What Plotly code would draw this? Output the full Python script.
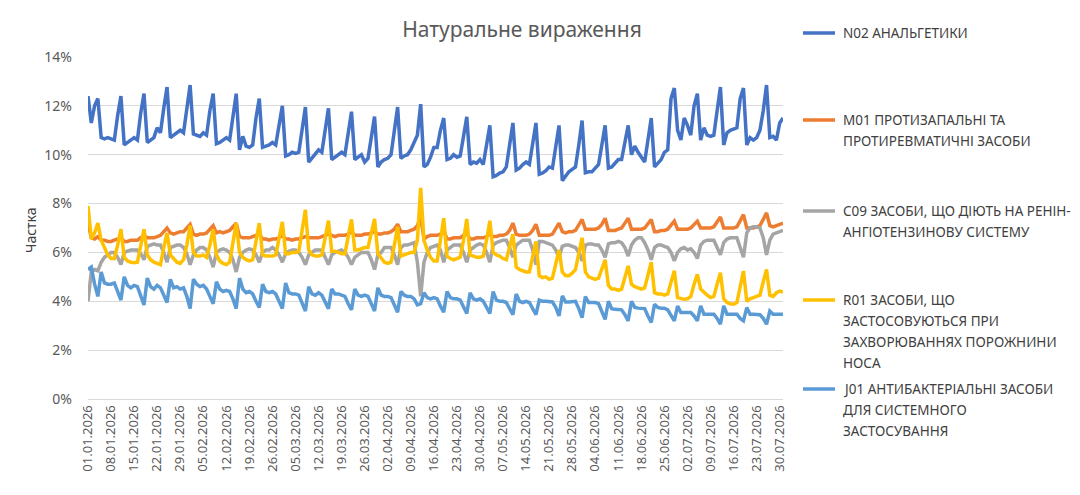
import plotly.graph_objects as go
import pandas as pd

dates = pd.date_range("2026-01-01", "2026-07-31", freq="D").strftime("%d.%m.%Y").tolist()
tick_labels = dates[::7]

n02 = [12.4, 11.3, 12.0, 12.3,
       10.7, 10.65, 10.7, 10.65, 10.6, 11.6, 12.4,
       10.4, 10.5, 10.6, 10.7, 10.6, 11.7, 12.5,
       10.5, 10.6, 10.7, 11.1, 10.9, 11.9, 12.77,
       10.7, 10.8, 10.9, 11.0, 10.9, 12.0, 12.85,
       10.85, 10.8, 10.75, 10.9, 10.8, 11.8, 12.5,
       10.45, 10.5, 10.6, 10.7, 10.6, 11.6, 12.5,
       10.2, 10.75, 10.35, 10.3, 10.4, 11.5, 12.3,
       10.3, 10.35, 10.4, 10.5, 10.4, 11.2, 12.0,
       9.95, 10.0, 10.1, 10.05, 10.1, 11.0, 11.95,
       9.7, 9.85, 10.0, 10.2, 10.1, 11.0, 11.9,
       9.8, 9.9, 10.0, 10.1, 10.0, 10.9, 11.76,
       9.8, 9.9, 10.0, 9.7, 9.85, 10.7, 11.56,
       9.5, 9.7, 9.8, 9.85, 10.0, 11.1, 11.95,
       9.85, 9.95, 10.0, 10.2, 10.5, 10.8, 12.07,
       9.5, 9.6, 9.9, 10.3, 10.3, 11.0, 11.5,
       9.8, 9.85, 10.0, 9.9, 9.95, 10.7, 11.55,
       9.6, 9.7, 9.65, 9.8, 9.6, 10.4, 11.2,
       9.1, 9.15, 9.25, 9.3, 9.5, 10.4, 11.3,
       9.37, 9.45, 9.6, 9.7, 9.6, 10.5, 11.3,
       9.2, 9.25, 9.35, 9.5, 9.45, 10.3, 11.2,
       8.94, 9.1, 9.3, 9.4, 9.5, 10.4, 11.4,
       9.26, 9.3, 9.3, 9.45, 9.6, 10.4, 11.2,
       9.45, 9.5, 9.65, 9.8, 9.8, 10.5, 11.2,
       10.0, 10.35, 10.1, 9.9, 9.7, 10.6, 11.5,
       9.5, 9.65, 9.8, 10.1, 10.2, 12.3, 12.73,
       11.0, 10.6, 11.5, 11.2, 10.8, 12.0, 12.5,
       10.6, 11.1, 10.8, 10.75, 10.8, 11.8, 12.77,
       10.4, 10.9, 11.0, 11.05, 11.1, 12.3, 12.73,
       10.4, 10.7, 10.6, 10.7, 11.0, 11.8, 12.85,
       10.7, 10.75, 10.6, 11.3, 11.5]

m01 = [7.2, 6.6, 6.55, 6.65,
       6.5, 6.5, 6.45, 6.45, 6.5, 6.55, 6.6,
       6.45, 6.45, 6.5, 6.5, 6.5, 6.6, 6.7,
       6.6, 6.6, 6.6, 6.65, 6.7, 6.85, 7.0,
       6.8, 6.75, 6.8, 6.85, 6.85, 7.0, 7.15,
       6.75, 6.7, 6.75, 6.75, 6.8, 6.95, 7.1,
       6.8, 6.85, 6.8, 6.85, 6.9, 7.05, 7.2,
       6.65, 6.6, 6.6, 6.6, 6.65, 6.7, 6.75,
       6.55, 6.55, 6.5, 6.55, 6.55, 6.6, 6.7,
       6.55, 6.55, 6.5, 6.55, 6.55, 6.6, 6.65,
       6.6, 6.6, 6.6, 6.6, 6.65, 6.7, 6.75,
       6.7, 6.65, 6.7, 6.7, 6.7, 6.75, 6.85,
       6.7, 6.7, 6.7, 6.75, 6.75, 6.8, 6.85,
       6.75, 6.75, 6.8, 6.8, 6.85, 6.95, 7.15,
       6.85, 6.85, 6.85, 6.9, 6.95, 7.1, 7.45,
       6.55, 6.65, 6.7, 6.7, 6.7, 6.75, 6.9,
       6.55, 6.55, 6.6, 6.6, 6.6, 6.7, 6.8,
       6.55, 6.55, 6.6, 6.6, 6.6, 6.65, 6.75,
       6.65, 6.65, 6.7, 6.7, 6.75, 6.9, 7.2,
       6.75, 6.7, 6.7, 6.7, 6.75, 6.9, 7.15,
       6.7, 6.7, 6.7, 6.7, 6.75, 6.95, 7.2,
       6.85, 6.8, 6.85, 6.85, 6.9, 7.1, 7.35,
       6.95, 6.95, 6.95, 6.95, 7.0, 7.15, 7.4,
       6.9, 6.9, 6.9, 6.95, 7.0, 7.2, 7.4,
       6.95, 6.95, 6.95, 6.95, 7.0, 7.15, 7.35,
       6.85, 6.85, 6.9, 6.9, 6.95, 7.1, 7.28,
       6.95, 6.95, 6.95, 6.95, 7.0, 7.15, 7.28,
       7.0, 7.0, 7.0, 7.0, 7.05, 7.25, 7.45,
       7.0, 7.0, 7.0, 7.0, 7.05, 7.3, 7.55,
       7.0, 7.0, 7.0, 7.05, 7.1, 7.35, 7.62,
       7.1, 7.05, 7.1, 7.15, 7.2]

c09 = [4.0, 5.2, 5.3, 5.25,
       5.6, 5.8, 5.9, 6.0, 6.0, 5.8, 5.5,
       6.0, 6.05, 6.1, 6.1, 6.1, 5.95, 5.7,
       6.25, 6.3, 6.35, 6.3, 6.3, 6.0, 5.6,
       6.2, 6.25, 6.3, 6.3, 6.2, 5.95, 5.5,
       5.9, 6.1, 6.2, 6.2, 6.1, 5.8, 5.4,
       6.0, 6.1, 6.15, 6.1, 6.0, 5.7, 5.2,
       5.8, 6.0, 6.1, 6.15, 6.1, 5.9, 5.6,
       6.0, 6.1, 6.1, 6.2, 6.1, 5.9, 5.6,
       5.95, 6.05, 6.1, 6.1, 6.0, 5.8, 5.5,
       5.9, 6.0, 6.1, 6.1, 6.1, 5.8, 5.5,
       5.9, 6.0, 6.05, 6.1, 6.0, 5.8, 5.5,
       5.8, 5.9, 6.0, 6.0, 6.0, 5.7, 5.3,
       5.9, 6.0, 6.2, 6.2, 6.2, 5.9, 5.5,
       6.2, 6.3, 6.3, 6.35, 6.4, 5.6, 4.2,
       5.6, 6.0, 6.2, 6.25, 6.3, 6.1, 5.6,
       6.1, 6.2, 6.3, 6.3, 6.3, 6.0, 5.6,
       6.1, 6.2, 6.3, 6.35, 6.3, 6.0, 5.6,
       6.3, 6.4, 6.45, 6.5, 6.5, 6.2, 5.8,
       6.3, 6.4, 6.5, 6.5, 6.5, 6.1, 5.5,
       6.45, 6.45, 6.4, 6.35, 6.3, 6.1, 5.8,
       6.25, 6.3, 6.3, 6.25, 6.2, 6.0, 5.65,
       6.3, 6.35, 6.35, 6.3, 6.3, 6.1, 5.8,
       6.35, 6.4, 6.4, 6.45, 6.4, 6.2, 5.85,
       6.3, 6.5, 6.6, 6.6, 6.4, 6.1, 5.7,
       6.2, 6.3, 6.3, 6.25, 6.2, 6.0, 5.65,
       6.0, 6.15, 6.2, 6.1, 6.15, 6.0, 5.75,
       6.3, 6.45, 6.5, 6.5, 6.5, 6.2, 5.9,
       6.4, 6.55, 6.6, 6.6, 6.6, 6.2, 5.8,
       6.8, 7.0, 7.05, 7.05, 7.0, 6.6, 5.9,
       6.5, 6.75, 6.8, 6.85, 6.9]

r01 = [7.9, 6.55, 6.8, 7.2,
       6.5, 6.2, 5.9, 5.75, 5.75, 6.3, 6.95,
       5.8, 5.65, 5.6, 5.58, 5.6, 6.2, 6.95,
       5.9, 5.7, 5.6, 5.55, 5.5, 6.2, 6.8,
       5.9, 5.75, 5.6, 5.55, 5.7, 6.3, 7.1,
       6.0, 5.85, 5.85, 5.9, 5.8, 6.3, 6.95,
       5.9, 5.65, 5.55, 5.5, 5.6, 6.4, 7.2,
       6.0, 5.8, 5.7, 5.65, 5.7, 6.4, 7.2,
       5.9, 5.85, 5.85, 5.85, 5.9, 6.5, 7.25,
       5.95, 5.95, 6.0, 6.0, 6.05, 6.8, 7.75,
       6.1, 5.9, 5.85, 5.85, 5.9, 6.6, 7.3,
       6.05, 6.05, 6.0, 5.95, 5.95, 6.6, 7.35,
       6.1, 6.1, 6.15, 6.2, 6.2, 6.8, 7.37,
       5.95, 5.75, 5.6, 5.55, 5.6, 6.3, 7.05,
       5.85, 5.9, 5.95, 6.0, 6.0, 6.5, 8.64,
       6.5, 6.1, 5.8, 5.65, 5.65, 6.5, 7.4,
       5.85, 5.75, 5.7, 5.75, 5.8, 6.5, 7.37,
       5.9, 5.85, 5.8, 5.8, 5.85, 6.5, 7.3,
       6.0, 5.9, 5.85, 5.75, 5.7, 6.2, 6.75,
       5.4, 5.3, 5.25, 5.2, 5.2, 5.8, 6.45,
       5.05, 4.97, 5.0, 4.9, 4.95, 5.5, 6.1,
       5.2, 5.05, 5.05, 5.15, 5.3, 6.0, 6.6,
       5.2, 5.0, 4.95, 4.9, 4.95, 5.3, 5.7,
       4.65, 4.5, 4.5, 4.45, 4.5, 5.0, 5.45,
       4.7, 4.6, 4.55, 4.5, 4.55, 5.1, 5.6,
       4.35, 4.3, 4.3, 4.25, 4.3, 4.8, 5.25,
       4.15, 4.1, 4.08, 4.1, 4.2, 4.7, 5.1,
       4.5, 4.35, 4.25, 4.15, 4.2, 4.7, 5.17,
       4.1, 3.95, 3.9, 3.88, 3.95, 4.6, 5.24,
       4.0, 4.1, 4.15, 4.2, 4.25, 4.8, 5.3,
       4.25, 4.2, 4.35, 4.42, 4.38]

j01 = [5.3, 5.4, 4.7, 4.2,
       5.2, 4.75, 4.7, 4.7, 4.75, 4.4, 4.05,
       5.0, 4.65, 4.55, 4.65, 4.6, 4.2, 3.85,
       4.95, 4.6, 4.5, 4.65, 4.55, 4.25, 3.95,
       4.9, 4.55, 4.6, 4.5, 4.55, 4.2, 3.7,
       4.9, 4.7, 4.6, 4.65, 4.5, 4.2, 3.9,
       4.8, 4.5, 4.4, 4.45, 4.4, 4.1, 3.7,
       4.95, 4.5, 4.35, 4.4, 4.3, 4.0, 3.75,
       4.7, 4.4, 4.35, 4.4, 4.3, 4.0, 3.7,
       4.75, 4.35, 4.3, 4.3, 4.25, 3.95, 3.6,
       4.6, 4.3, 4.25, 4.35, 4.25, 3.95, 3.7,
       4.5, 4.3, 4.3, 4.25, 4.2, 3.9, 3.65,
       4.5, 4.25, 4.2, 4.25, 4.2, 3.9, 3.6,
       4.55, 4.25, 4.2, 4.2, 4.15, 3.85, 3.55,
       4.4, 4.25, 4.2, 4.2, 4.1, 3.85, 3.9,
       4.35, 4.15, 4.1, 4.15, 4.1, 3.8, 3.55,
       4.4, 4.15, 4.1, 4.1, 4.05, 3.8, 3.5,
       4.35, 4.1, 4.05, 4.1, 4.0, 3.75, 3.5,
       4.4, 4.05, 4.0, 4.0, 3.95, 3.7, 3.45,
       4.3, 4.0, 3.95, 4.0, 3.95, 3.7, 3.45,
       4.05, 4.0, 4.0, 3.98, 3.97, 3.75, 3.4,
       4.22, 3.97, 3.97, 4.0, 4.0, 3.7, 3.33,
       4.19, 3.95, 3.95, 3.95, 3.9, 3.6, 3.26,
       4.0, 3.7, 3.67, 3.67, 3.65, 3.45, 3.2,
       4.0, 3.75, 3.72, 3.72, 3.7, 3.4, 3.13,
       3.88, 3.75, 3.72, 3.72, 3.65, 3.45, 3.2,
       3.8, 3.54, 3.54, 3.55, 3.54, 3.4, 3.2,
       3.81, 3.47, 3.47, 3.48, 3.47, 3.3, 3.06,
       3.81, 3.47, 3.47, 3.48, 3.47, 3.3, 3.2,
       3.74, 3.47, 3.47, 3.47, 3.45, 3.3, 3.06,
       3.6, 3.47, 3.47, 3.48, 3.47]

series = [
    (n02, "#4472C4", ["N02 АНАЛЬГЕТИКИ"], 33),
    (m01, "#ED7D31", ["M01 ПРОТИЗАПАЛЬНІ ТА", "ПРОТИРЕВМАТИЧНІ ЗАСОБИ"], 120),
    (c09, "#A5A5A5", ["C09 ЗАСОБИ, ЩО ДІЮТЬ НА РЕНІН-", "АНГІОТЕНЗИНОВУ СИСТЕМУ"], 211),
    (r01, "#FFC000", ["R01 ЗАСОБИ, ЩО", "ЗАСТОСОВУЮТЬСЯ ПРИ", "ЗАХВОРЮВАННЯХ ПОРОЖНИНИ", "НОСА"], 300),
    (j01, "#5B9BD5", ["J01 АНТИБАКТЕРІАЛЬНІ ЗАСОБИ", "ДЛЯ СИСТЕМНОГО", "ЗАСТОСУВАННЯ"], 389),
]

# the page body has an 8px margin; work in screen pixels and offset
OFF = 8
W, H = 1080 - OFF, 495 - OFF
L, R, T, B = 88, 783, 57, 399
def px_x(p):
    return (p - L) / (R - L)
def px_y(p):
    return (B - p) / (B - T)

FONT = "Noto Sans"
fig = go.Figure()
annotations = []
shapes = []
for vals, color, lines, ytop in series:
    fig.add_trace(go.Scatter(x=dates, y=vals, mode="lines",
                             line=dict(color=color, width=3.5),
                             name=lines[0], showlegend=False))
    shapes.append(dict(type="line", xref="paper", yref="paper",
                       x0=px_x(803), x1=px_x(835), y0=px_y(ytop), y1=px_y(ytop),
                       line=dict(color=color, width=3.5)))
    for i, t in enumerate(lines):
        annotations.append(dict(text=t, xref="paper", yref="paper",
                                x=px_x(841), y=px_y(ytop + 21 * i),
                                xanchor="left", yanchor="middle", showarrow=False,
                                font=dict(family=FONT, size=13.5, color="#404040")))

annotations.append(dict(text="Частка", xref="paper", yref="paper",
                        x=px_x(31), y=px_y(230), textangle=-90,
                        xanchor="center", yanchor="middle", showarrow=False,
                        font=dict(family=FONT, size=14, color="#404040")))

fig.update_layout(
    width=W, height=H,
    margin=dict(l=L - OFF, r=1080 - R, t=T - OFF, b=495 - B),
    paper_bgcolor="white", plot_bgcolor="white",
    title=dict(text="Натуральне вираження", x=(522 - OFF) / W, xanchor="center",
               y=1 - (30 - OFF) / H, yanchor="middle",
               font=dict(family=FONT, size=21, color="#595959")),
    font=dict(family=FONT, size=13, color="#595959"),
    annotations=annotations, shapes=shapes,
    xaxis=dict(type="category", range=[0, len(dates) - 1],
               tickmode="array", tickvals=tick_labels, ticktext=tick_labels,
               tickangle=-90, showgrid=False, showline=True,
               linecolor="#D9D9D9", linewidth=1, ticks="",
               tickfont=dict(family=FONT, size=13, color="#595959")),
    yaxis=dict(range=[0, 14], dtick=2, ticksuffix="%", showgrid=True,
               gridcolor="#D9D9D9", gridwidth=1, zeroline=False,
               showline=False, ticks="", ticklabelstandoff=15,
               tickfont=dict(family=FONT, size=14, color="#595959")),
)

fig.write_html("out.html")
